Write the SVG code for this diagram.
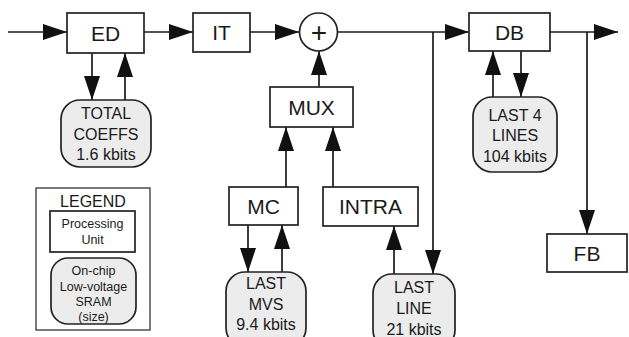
<svg xmlns="http://www.w3.org/2000/svg" width="629" height="337" viewBox="0 0 629 337">
<style>
.pu{fill:#fff;stroke:#222;stroke-width:1.7}
.mem{fill:#ececec;stroke:#222;stroke-width:1.7}
.lg{fill:#fff;stroke:#333;stroke-width:1.3}
.t{font-family:"Liberation Sans",Arial,sans-serif;fill:#1a1a1a;text-anchor:middle}
.big{font-size:21px}
.mid{font-size:16px}
.sm{font-size:12.5px}
.c line{stroke:#1a1a1a;stroke-width:1.7;fill:none}
.c .a{marker-end:url(#ah)}
</style>
<defs>
<marker id="ah" markerUnits="userSpaceOnUse" markerWidth="24" markerHeight="16" refX="24" refY="8" orient="auto">
<path d="M0,0 L24,8 L0,16 z" fill="#111"/>
</marker>
</defs>
<rect width="629" height="337" fill="#fff"/>
<g class="c" id="connectors">
<line class="a" x1="8" y1="32" x2="67" y2="32"/>
<line class="a" x1="144" y1="32" x2="193" y2="32"/>
<line class="a" x1="250" y1="32" x2="299" y2="32"/>
<line class="a" x1="92" y1="53" x2="92" y2="100"/>
<line class="a" x1="125" y1="100" x2="125" y2="53"/>
<line class="a" x1="319" y1="87" x2="319" y2="51"/>
<line class="a" x1="286" y1="187" x2="286" y2="127"/>
<line class="a" x1="333" y1="187" x2="333" y2="127"/>
<line class="a" x1="338" y1="32" x2="469" y2="32"/>
<line class="a" x1="433" y1="32" x2="433" y2="274"/>
<line class="a" x1="394" y1="274" x2="394" y2="226"/>
<line class="a" x1="248" y1="225" x2="248" y2="272"/>
<line class="a" x1="282" y1="272" x2="282" y2="225"/>
<line class="a" x1="493" y1="97" x2="493" y2="51"/>
<line class="a" x1="521" y1="51" x2="521" y2="97"/>
<line class="a" x1="550" y1="32" x2="618" y2="32"/>
<line class="a" x1="587" y1="32" x2="587" y2="234"/>
</g>
<g id="ED"><rect class="pu" x="67" y="13" width="77" height="40"/><text class="t big" x="105.5" y="40.5">ED</text></g>
<g id="IT"><rect class="pu" x="193" y="13" width="57" height="39"/><text class="t big" x="221.5" y="40">IT</text></g>
<g id="SUM"><circle class="pu" cx="318.5" cy="32" r="19"/><text class="t" style="font-size:28px" x="319" y="42">+</text></g>
<g id="DB"><rect class="pu" x="469" y="13" width="81" height="38"/><text class="t big" x="509.5" y="39.5">DB</text></g>
<g id="MUX"><rect class="pu" x="270" y="87" width="83" height="40"/><text class="t big" x="311.5" y="114.5">MUX</text></g>
<g id="MC"><rect class="pu" x="229" y="187" width="69" height="38"/><text class="t big" x="263.5" y="213.5">MC</text></g>
<g id="INTRA"><rect class="pu" x="323" y="187" width="95" height="39"/><text class="t big" x="370.5" y="214">INTRA</text></g>
<g id="FB"><rect class="pu" x="547" y="234" width="80" height="38"/><text class="t big" x="587" y="260.5">FB</text></g>
<g id="TOTALCOEFFS"><rect class="mem" x="61" y="100" width="90" height="67" rx="19"/>
<text class="t mid" x="106" y="119">TOTAL</text><text class="t mid" x="106" y="139.5">COEFFS</text><text class="t mid" x="106" y="160">1.6 kbits</text></g>
<g id="LAST4LINES"><rect class="mem" x="473" y="97" width="84" height="75" rx="19"/>
<text class="t mid" x="515" y="121">LAST 4</text><text class="t mid" x="515" y="141">LINES</text><text class="t mid" x="515" y="162">104 kbits</text></g>
<g id="LASTMVS"><rect class="mem" x="226" y="272" width="80" height="75" rx="19"/>
<text class="t mid" x="266" y="289">LAST</text><text class="t mid" x="266" y="310">MVS</text><text class="t mid" x="266" y="330">9.4 kbits</text></g>
<g id="LASTLINE"><rect class="mem" x="373" y="274" width="82" height="75" rx="19"/>
<text class="t mid" x="414" y="293">LAST</text><text class="t mid" x="414" y="314">LINE</text><text class="t mid" x="414" y="335">21 kbits</text></g>
<g id="LEGEND"><rect class="lg" x="36" y="188" width="114" height="142"/>
<text class="t" style="font-size:16px" x="93" y="207">LEGEND</text>
<rect class="pu" x="50" y="211" width="85" height="41"/>
<text class="t sm" x="92.5" y="228">Processing</text><text class="t sm" x="92.5" y="244">Unit</text>
<rect class="mem" x="51" y="258" width="85" height="66" rx="17"/>
<text class="t sm" x="93.5" y="275">On-chip</text><text class="t sm" x="93.5" y="291">Low-voltage</text><text class="t sm" x="93.5" y="306">SRAM</text><text class="t sm" x="93.5" y="321">(size)</text></g>
</svg>
